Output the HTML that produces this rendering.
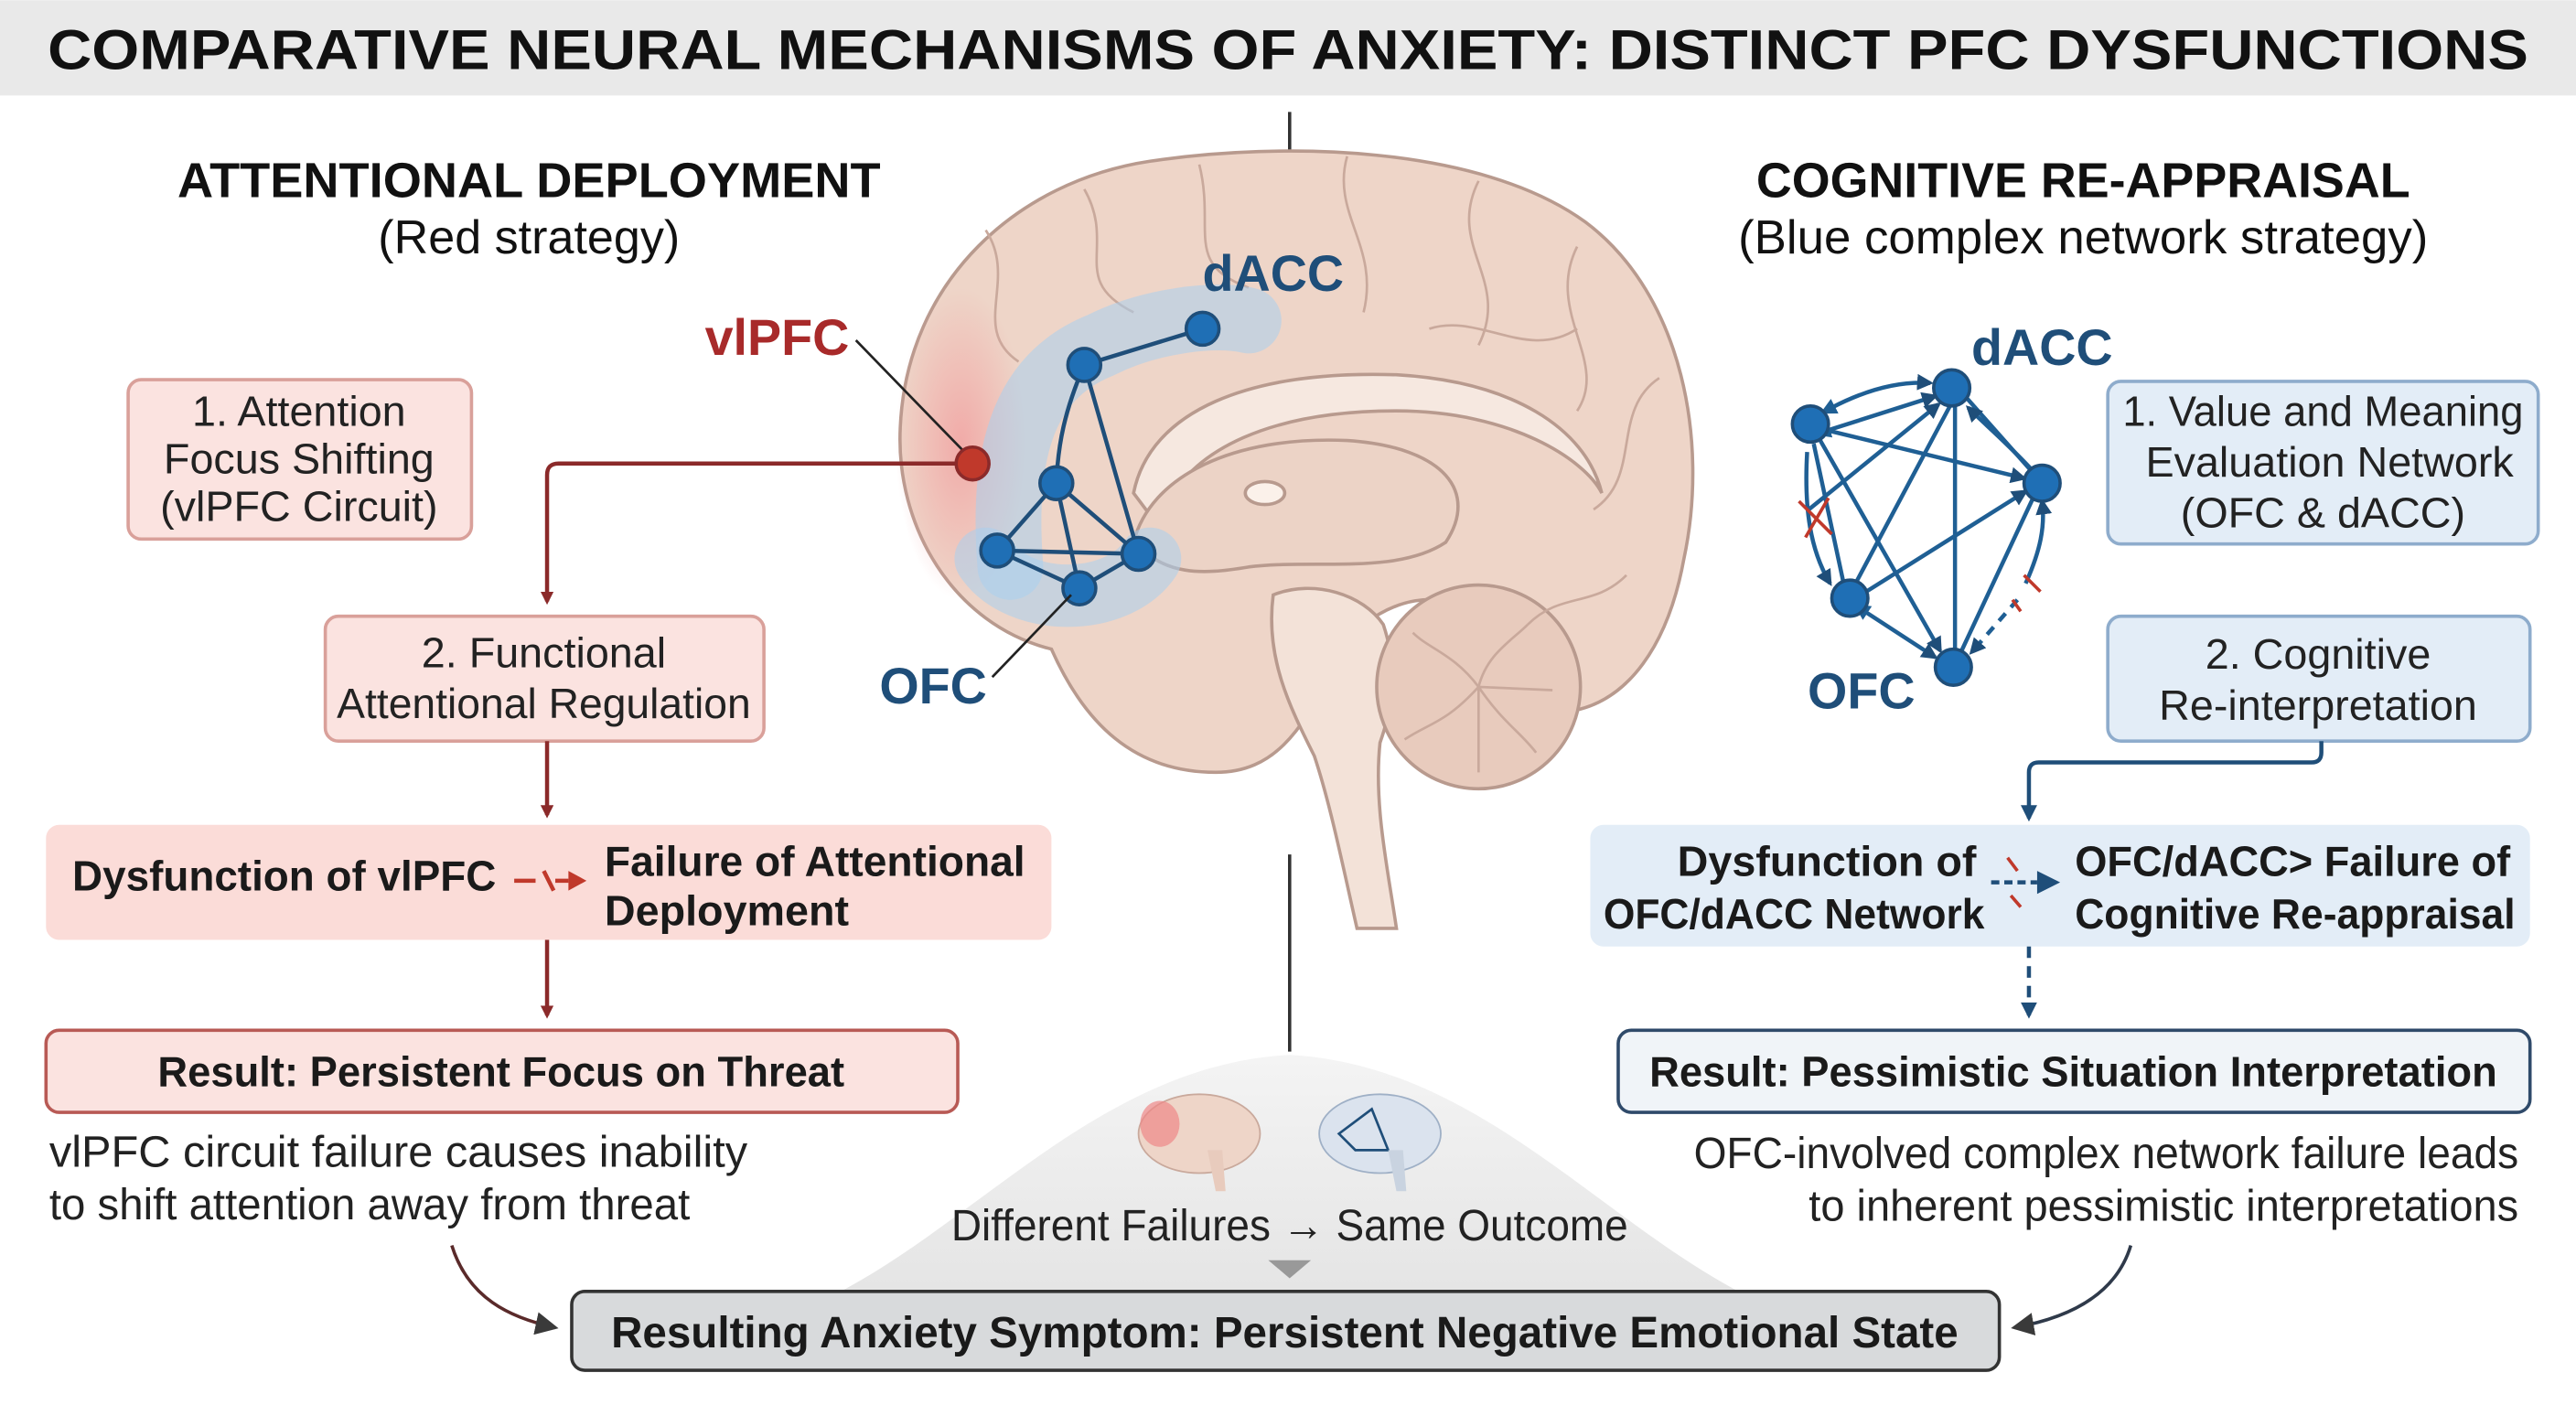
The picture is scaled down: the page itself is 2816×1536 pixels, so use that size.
<!DOCTYPE html>
<html><head><meta charset="utf-8"><style>
html,body{margin:0;padding:0;background:#fff;}
svg{display:block;}
text{font-family:"Liberation Sans",Arial,sans-serif;}
</style></head><body>
<svg width="2816" height="1536" viewBox="0 0 1568 855" xmlns="http://www.w3.org/2000/svg">
<defs>
<marker id="ar" markerWidth="8" markerHeight="8" refX="6" refY="4" orient="auto" markerUnits="userSpaceOnUse"><path d="M0,0 L8,4 L0,8z" fill="#8b2a2a"/></marker>
<marker id="ab" markerWidth="10" markerHeight="10" refX="8" refY="5" orient="auto" markerUnits="userSpaceOnUse"><path d="M0,0 L10,5 L0,10z" fill="#1f4e79"/></marker>
<marker id="abs" markerWidth="10" markerHeight="10" refX="2" refY="5" orient="auto-start-reverse" markerUnits="userSpaceOnUse"><path d="M0,0 L10,5 L0,10z" fill="#1f5f94"/></marker>
<marker id="ad" markerWidth="14" markerHeight="14" refX="12" refY="7" orient="auto" markerUnits="userSpaceOnUse"><path d="M0,0 L14,7 L0,14z" fill="#3a3a3a"/></marker>
<radialGradient id="gr" cx="0.5" cy="0.5" r="0.5"><stop offset="0" stop-color="#f2a0a0" stop-opacity="0.8"/><stop offset="1" stop-color="#f2a0a0" stop-opacity="0"/></radialGradient>
<linearGradient id="hill" x1="0" y1="0" x2="0" y2="1"><stop offset="0" stop-color="#f4f4f4"/><stop offset="1" stop-color="#e2e2e2"/></linearGradient>
</defs>

<rect x="0" y="0" width="1568" height="58" fill="#e9e9e9"/>
<text x="784" y="42" font-size="34" font-weight="bold" text-anchor="middle" fill="#111" textLength="1510" lengthAdjust="spacingAndGlyphs">COMPARATIVE NEURAL MECHANISMS OF ANXIETY: DISTINCT PFC DYSFUNCTIONS</text>

<line x1="785" y1="68" x2="785" y2="95" stroke="#333" stroke-width="2"/>
<line x1="785" y1="520" x2="785" y2="640" stroke="#333" stroke-width="2"/>

<path d="M430,812 C560,800 640,650 785,642 C930,650 1010,800 1140,812 Z" fill="url(#hill)"/>

<!-- brain -->
<g stroke="#b89a8e" stroke-width="2" fill="#eed5c8">
<path d="M640,395 C580,380 545,320 548,260 C552,170 620,110 700,98 C780,86 900,88 965,135 C1025,180 1040,270 1025,340 C1015,395 990,425 960,432 L900,370 C870,360 850,365 830,380 C800,420 790,470 740,470 C690,470 660,440 640,395 Z"/>
<path d="M690,300 C700,250 760,225 850,228 C920,232 965,260 975,300 C965,280 920,250 850,250 C780,250 720,270 705,320 Z" fill="#f6e8e0"/>
<path d="M690,330 C700,290 750,265 820,268 C880,272 900,300 880,330 C850,350 800,340 760,345 C730,350 710,350 690,330 Z" fill="#ecd3c6"/>
<ellipse cx="770" cy="300" rx="12" ry="7" fill="#fbf1ea"/>
<path d="M775,362 C800,352 830,362 842,380 C852,410 847,432 840,452 C836,490 845,530 850,565 L826,565 C818,530 810,490 800,460 C785,430 770,400 775,362 Z" fill="#f3e2d8"/>
<ellipse cx="900" cy="418" rx="62" ry="62" fill="#e8cbbd"/>
</g>
<g fill="none" stroke="#c9a99c" stroke-width="1.5">
<path d="M600,140 C620,170 590,200 620,220"/><path d="M660,115 C680,150 650,170 690,190"/><path d="M730,100 C740,140 720,160 760,175"/><path d="M820,95 C810,130 840,150 830,190"/><path d="M900,110 C880,150 920,170 900,210"/><path d="M960,150 C940,190 980,220 960,250"/><path d="M1010,230 C980,250 1000,290 970,310"/><path d="M990,350 C970,370 950,360 930,380"/><path d="M870,200 C900,190 930,220 960,200"/>
<path d="M900,418 C885,398 870,395 860,385 M900,418 C880,440 870,440 855,450 M900,418 C915,440 925,445 935,458 M900,418 C905,398 920,390 930,380 M900,418 L945,420 M900,418 L900,470"/>
</g>
<ellipse cx="585" cy="270" rx="40" ry="95" fill="url(#gr)"/>
<path d="M615,345 C610,280 620,230 670,210 C700,195 740,190 760,195" fill="none" stroke="#a9d0ef" stroke-width="40" stroke-linecap="round" opacity="0.55"/>
<path d="M600,340 C620,370 680,370 700,340" fill="none" stroke="#a9d0ef" stroke-width="38" stroke-linecap="round" opacity="0.55"/>
<g stroke="#1f4e79" stroke-width="2.5" fill="none">
<line x1="660" y1="222" x2="732" y2="200"/><path d="M660,222 C648,250 644,270 643,294"/><line x1="660" y1="222" x2="693" y2="337"/>
<line x1="643" y1="294" x2="607" y2="335"/><line x1="643" y1="294" x2="693" y2="337"/><line x1="643" y1="294" x2="657" y2="358"/>
<line x1="607" y1="335" x2="693" y2="337"/><line x1="607" y1="335" x2="657" y2="358"/><line x1="693" y1="337" x2="657" y2="358"/>
</g>
<g fill="#1f6fb5" stroke="#1f4e79" stroke-width="2">
<circle cx="660" cy="222" r="10"/><circle cx="732" cy="200" r="10"/><circle cx="643" cy="294" r="10"/><circle cx="607" cy="335" r="10"/><circle cx="693" cy="337" r="10"/><circle cx="657" cy="358" r="10"/>
</g>
<line x1="521" y1="207" x2="587" y2="275" stroke="#222" stroke-width="1.5"/>
<line x1="604" y1="412" x2="652" y2="362" stroke="#222" stroke-width="1.5"/>
<text x="473" y="216" font-size="31" font-weight="bold" fill="#a82a2a" text-anchor="middle">vlPFC</text>
<text x="775" y="177" font-size="31" font-weight="bold" fill="#1f4e79" text-anchor="middle">dACC</text>
<text x="568" y="428" font-size="31" font-weight="bold" fill="#1f4e79" text-anchor="middle">OFC</text>

<path d="M582,282 L340,282 Q333,282 333,289 L333,366" fill="none" stroke="#8b2a2a" stroke-width="2.5" marker-end="url(#ar)"/>
<circle cx="592" cy="282" r="10" fill="#c0392b" stroke="#8b2a2a" stroke-width="2"/>

<text x="322" y="120" font-size="30" font-weight="bold" text-anchor="middle" fill="#111" textLength="428" lengthAdjust="spacingAndGlyphs">ATTENTIONAL DEPLOYMENT</text>
<text x="322" y="154" font-size="29" text-anchor="middle" fill="#111">(Red strategy)</text>

<rect x="78" y="231" width="209" height="97" rx="8" fill="#fbe3e0" stroke="#d9a09a" stroke-width="2"/>
<g font-size="26" fill="#222" text-anchor="middle">
<text x="182" y="259">1. Attention</text><text x="182" y="288">Focus Shifting</text><text x="182" y="317">(vlPFC Circuit)</text>
</g>
<rect x="198" y="375" width="267" height="76" rx="8" fill="#fbe3e0" stroke="#d9a09a" stroke-width="2"/>
<g font-size="26" fill="#222" text-anchor="middle">
<text x="331" y="406">2. Functional</text><text x="331" y="437" textLength="252" lengthAdjust="spacingAndGlyphs">Attentional Regulation</text>
</g>
<line x1="333" y1="451" x2="333" y2="496" stroke="#8b2a2a" stroke-width="2.5" marker-end="url(#ar)"/>
<rect x="28" y="502" width="612" height="70" rx="8" fill="#fbdcd8"/>
<text x="44" y="542" font-size="26" font-weight="bold" fill="#1a1a1a" textLength="258" lengthAdjust="spacingAndGlyphs">Dysfunction of vlPFC</text>
<path d="M313,536 L326,536 M331,530 L337,542 M338,536 L346,536" stroke="#c0392b" stroke-width="2.5" fill="none"/>
<path d="M346,530 L357,536 L346,542z" fill="#c0392b"/>
<text x="368" y="533" font-size="26" font-weight="bold" fill="#1a1a1a" textLength="256" lengthAdjust="spacingAndGlyphs">Failure of Attentional</text>
<text x="368" y="563" font-size="26" font-weight="bold" fill="#1a1a1a">Deployment</text>
<line x1="333" y1="572" x2="333" y2="618" stroke="#8b2a2a" stroke-width="2.5" marker-end="url(#ar)"/>
<rect x="28" y="627" width="555" height="50" rx="8" fill="#fbe3e0" stroke="#b85a55" stroke-width="2"/>
<text x="305" y="661" font-size="26" font-weight="bold" text-anchor="middle" fill="#1a1a1a" textLength="418" lengthAdjust="spacingAndGlyphs">Result: Persistent Focus on Threat</text>
<text x="30" y="710" font-size="27" fill="#222" textLength="425" lengthAdjust="spacingAndGlyphs">vlPFC circuit failure causes inability</text>
<text x="30" y="742" font-size="27" fill="#222" textLength="390" lengthAdjust="spacingAndGlyphs">to shift attention away from threat</text>
<path d="M275,758 C285,790 310,802 338,808" fill="none" stroke="#5a2a2a" stroke-width="2" marker-end="url(#ad)"/>

<g>
<ellipse cx="730" cy="690" rx="37" ry="24" fill="#eed5c8" stroke="#c9a99c"/>
<ellipse cx="706" cy="684" rx="12" ry="14" fill="#e88" opacity="0.7"/>
<path d="M735,700 L740,725 L746,725 L744,700z" fill="#e8cbbd"/>
<ellipse cx="840" cy="690" rx="37" ry="24" fill="#dbe3ee" stroke="#9fb0c6"/>
<path d="M815,690 L835,675 L845,700 L825,700 Z" fill="none" stroke="#1f4e79" stroke-width="1.5"/>
<path d="M845,700 L850,725 L856,725 L854,700z" fill="#c9d3e0"/>
</g>
<text x="785" y="755" font-size="27" text-anchor="middle" fill="#222" textLength="412" lengthAdjust="spacingAndGlyphs">Different Failures → Same Outcome</text>
<path d="M772,767 L798,767 L785,778z" fill="#999"/>
<rect x="348" y="786" width="869" height="48" rx="8" fill="#d8dadc" stroke="#333" stroke-width="2"/>
<text x="782" y="820" font-size="27" font-weight="bold" text-anchor="middle" fill="#1a1a1a" textLength="820" lengthAdjust="spacingAndGlyphs">Resulting Anxiety Symptom: Persistent Negative Emotional State</text>

<text x="1268" y="120" font-size="30" font-weight="bold" text-anchor="middle" fill="#111" textLength="398" lengthAdjust="spacingAndGlyphs">COGNITIVE RE-APPRAISAL</text>
<text x="1268" y="154" font-size="29" text-anchor="middle" fill="#111" textLength="420" lengthAdjust="spacingAndGlyphs">(Blue complex network strategy)</text>

<g stroke="#1f5f94" stroke-width="2.5" fill="none">
<path d="M1115,248 C1140,235 1160,232 1175,233" marker-end="url(#ab)" marker-start="url(#abs)"/>
<line x1="1112" y1="262" x2="1178" y2="241" marker-end="url(#ab)" marker-start="url(#abs)"/>
<line x1="1113" y1="262" x2="1232" y2="291" marker-end="url(#ab)"/>
<line x1="1108" y1="268" x2="1181" y2="396" marker-end="url(#ab)"/>
<line x1="1104" y1="270" x2="1122" y2="354"/>
<path d="M1100,275 C1098,310 1102,335 1114,355" marker-end="url(#ab)"/>
<line x1="1101" y1="310" x2="1180" y2="246" marker-end="url(#ab)"/>
<line x1="1130" y1="354" x2="1188" y2="245"/>
<line x1="1190" y1="246" x2="1190" y2="396"/>
<line x1="1136" y1="360" x2="1233" y2="299" marker-end="url(#ab)"/>
<line x1="1197" y1="242" x2="1236" y2="286"/>
<path d="M1236,285 C1220,268 1208,258 1198,248" marker-end="url(#ab)"/>
<line x1="1238" y1="302" x2="1194" y2="396"/>
<line x1="1135" y1="372" x2="1178" y2="400" marker-end="url(#ab)" marker-start="url(#abs)"/>
<path d="M1233,355 C1242,335 1245,320 1243,305" marker-end="url(#ab)"/>
<path d="M1228,365 L1200,397" stroke-dasharray="6,5" marker-end="url(#ab)"/>
</g>
<path d="M1095,305 L1115,325 M1113,303 L1099,327" stroke="#c0392b" stroke-width="2"/>
<path d="M1232,350 L1242,360 M1225,365 L1230,372" stroke="#c0392b" stroke-width="2"/>
<g fill="#1f6fb5" stroke="#1f4e79" stroke-width="2">
<circle cx="1102" cy="258" r="11"/><circle cx="1188" cy="236" r="11"/><circle cx="1243" cy="294" r="11"/><circle cx="1126" cy="364" r="11"/><circle cx="1189" cy="406" r="11"/>
</g>
<text x="1243" y="222" font-size="31" font-weight="bold" fill="#1f4e79" text-anchor="middle">dACC</text>
<text x="1133" y="431" font-size="31" font-weight="bold" fill="#1f4e79" text-anchor="middle">OFC</text>

<rect x="1283" y="232" width="262" height="99" rx="8" fill="#e3edf7" stroke="#8eaccc" stroke-width="2"/>
<g font-size="26" fill="#222" text-anchor="middle">
<text x="1414" y="259" textLength="244" lengthAdjust="spacingAndGlyphs">1. Value and Meaning</text><text x="1418" y="290">Evaluation Network</text><text x="1414" y="321">(OFC &amp; dACC)</text>
</g>
<rect x="1283" y="375" width="257" height="76" rx="8" fill="#e3edf7" stroke="#8eaccc" stroke-width="2"/>
<g font-size="26" fill="#222" text-anchor="middle">
<text x="1411" y="407">2. Cognitive</text><text x="1411" y="438">Re-interpretation</text>
</g>
<path d="M1413,451 L1413,458 Q1413,464 1407,464 L1241,464 Q1235,464 1235,470 L1235,498" fill="none" stroke="#1f4e79" stroke-width="2.5" marker-end="url(#ab)"/>
<rect x="968" y="502" width="572" height="74" rx="8" fill="#e3edf7"/>
<g font-size="26" font-weight="bold" fill="#1a1a1a">
<text x="1112" y="533" text-anchor="middle">Dysfunction of</text>
<text x="1092" y="565" text-anchor="middle" textLength="232" lengthAdjust="spacingAndGlyphs">OFC/dACC Network</text>
<text x="1263" y="533" textLength="265" lengthAdjust="spacingAndGlyphs">OFC/dACC&gt; Failure of</text>
<text x="1263" y="565" textLength="268" lengthAdjust="spacingAndGlyphs">Cognitive Re-appraisal</text>
</g>
<path d="M1212,537 L1240,537" stroke="#1f4e79" stroke-width="2.5" stroke-dasharray="5,3"/>
<path d="M1240,530 L1254,537 L1240,544z" fill="#1f4e79"/>
<path d="M1222,522 L1228,530 M1224,545 L1230,552" stroke="#c0392b" stroke-width="2"/>
<line x1="1235" y1="576" x2="1235" y2="618" stroke="#1f4e79" stroke-width="2.5" stroke-dasharray="7,5" marker-end="url(#ab)"/>
<rect x="985" y="627" width="555" height="50" rx="8" fill="#f0f4f8" stroke="#2f4a6a" stroke-width="2"/>
<text x="1262" y="661" font-size="26" font-weight="bold" text-anchor="middle" fill="#1a1a1a" textLength="516" lengthAdjust="spacingAndGlyphs">Result: Pessimistic Situation Interpretation</text>
<text x="1533" y="711" font-size="27" text-anchor="end" fill="#222" textLength="502" lengthAdjust="spacingAndGlyphs">OFC-involved complex network failure leads</text>
<text x="1533" y="743" font-size="27" text-anchor="end" fill="#222" textLength="432" lengthAdjust="spacingAndGlyphs">to inherent pessimistic interpretations</text>
<path d="M1297,758 C1288,788 1260,802 1226,808" fill="none" stroke="#2f3a4a" stroke-width="2" marker-end="url(#ad)"/>
</svg>
</body></html>
